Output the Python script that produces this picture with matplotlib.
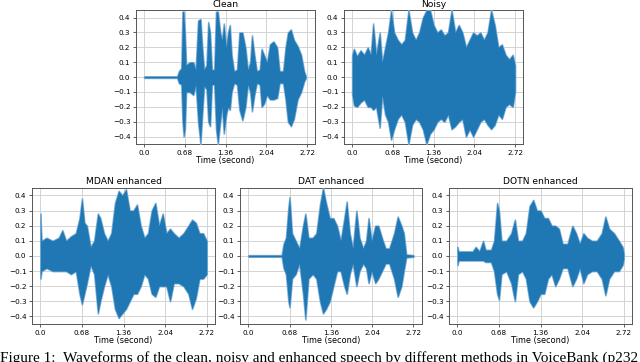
import matplotlib.pyplot as plt

# Time ticks shared by every panel.
TICKS = [0.0, 0.68, 1.36, 2.04, 2.72]
TICK_LABELS = ["0.0", "0.68", "1.36", "2.04", "2.72"]
YTICKS = [-0.4, -0.3, -0.2, -0.1, 0.0, 0.1, 0.2, 0.3, 0.4]
YTICK_LABELS = ["\u22120.4", "\u22120.3", "\u22120.2", "\u22120.1", "0.0",
                "0.1", "0.2", "0.3", "0.4"]

# Waveform envelopes (time in s, upper / lower amplitude).
clean_t = [0.00, 0.55, 0.58, 0.62, 0.64, 0.66, 0.68, 0.70, 0.76, 0.82, 0.86,
           0.90, 0.94, 0.97, 1.00, 1.04, 1.07, 1.10, 1.13, 1.17, 1.20, 1.23,
           1.27, 1.30, 1.33, 1.37, 1.40, 1.43, 1.46, 1.50, 1.55, 1.59, 1.64,
           1.69, 1.73, 1.77, 1.80, 1.84, 1.88, 1.93, 1.96, 2.00, 2.05, 2.10,
           2.16, 2.22, 2.26, 2.32, 2.36, 2.40, 2.45, 2.50, 2.56, 2.62, 2.67,
           2.70]
clean_up = [0.005, 0.005, 0.04, 0.06, 0.44, 0.44, 0.30, 0.08, 0.10, 0.10, 0.05,
            0.38, 0.39, 0.20, 0.05, 0.08, 0.37, 0.30, 0.05, 0.05, 0.44, 0.44,
            0.30, 0.25, 0.36, 0.20, 0.30, 0.35, 0.15, 0.04, 0.05, 0.30, 0.30,
            0.20, 0.05, 0.10, 0.28, 0.15, 0.04, 0.05, 0.19, 0.15, 0.10, 0.22,
            0.24, 0.20, 0.04, 0.04, 0.20, 0.30, 0.32, 0.25, 0.21, 0.15, 0.04,
            0.005]
clean_lo = [-0.005, -0.005, -0.04, -0.05, -0.30, -0.40, -0.35, -0.10, -0.10,
            -0.12, -0.05, -0.30, -0.45, -0.25, -0.06, -0.08, -0.30, -0.33,
            -0.05, -0.05, -0.35, -0.45, -0.30, -0.20, -0.38, -0.25, -0.20,
            -0.22, -0.10, -0.04, -0.05, -0.22, -0.29, -0.20, -0.05, -0.10,
            -0.23, -0.12, -0.04, -0.05, -0.20, -0.18, -0.12, -0.15, -0.15,
            -0.14, -0.04, -0.04, -0.15, -0.30, -0.33, -0.28, -0.15, -0.10,
            -0.03, -0.005]

noisy_t = [0.00, 0.03, 0.08, 0.14, 0.20, 0.26, 0.31, 0.35, 0.40, 0.46, 0.50,
           0.55, 0.60, 0.65, 0.70, 0.76, 0.82, 0.88, 0.94, 1.00, 1.06, 1.12,
           1.18, 1.24, 1.30, 1.36, 1.42, 1.48, 1.54, 1.60, 1.66, 1.72, 1.78,
           1.84, 1.90, 1.96, 2.02, 2.08, 2.14, 2.20, 2.26, 2.32, 2.38, 2.44,
           2.50, 2.56, 2.62, 2.68, 2.72]
noisy_up = [0.15, 0.19, 0.14, 0.18, 0.15, 0.20, 0.15, 0.36, 0.15, 0.30, 0.10,
            0.20, 0.30, 0.45, 0.30, 0.25, 0.22, 0.25, 0.45, 0.30, 0.25, 0.30,
            0.40, 0.45, 0.45, 0.35, 0.30, 0.32, 0.28, 0.30, 0.45, 0.30, 0.35,
            0.30, 0.20, 0.25, 0.30, 0.28, 0.30, 0.25, 0.30, 0.45, 0.35, 0.20,
            0.22, 0.15, 0.12, 0.15, 0.08]
noisy_lo = [-0.12, -0.19, -0.20, -0.17, -0.15, -0.20, -0.20, -0.22, -0.20,
            -0.34, -0.12, -0.25, -0.30, -0.42, -0.35, -0.28, -0.25, -0.30,
            -0.45, -0.32, -0.28, -0.30, -0.35, -0.45, -0.38, -0.35, -0.30,
            -0.28, -0.30, -0.25, -0.35, -0.33, -0.30, -0.28, -0.40, -0.35,
            -0.40, -0.35, -0.30, -0.28, -0.32, -0.35, -0.32, -0.25, -0.28,
            -0.20, -0.18, -0.20, -0.10]

mdan_t = [0.00, 0.02, 0.10, 0.20, 0.30, 0.36, 0.42, 0.50, 0.58, 0.64, 0.68,
          0.72, 0.76, 0.82, 0.88, 0.94, 0.98, 1.04, 1.10, 1.16, 1.22, 1.28,
          1.34, 1.40, 1.46, 1.52, 1.58, 1.64, 1.70, 1.76, 1.82, 1.88, 1.94,
          2.00, 2.06, 2.12, 2.18, 2.26, 2.34, 2.42, 2.48, 2.54, 2.60, 2.66,
          2.72]
mdan_up = [0.28, 0.10, 0.12, 0.10, 0.12, 0.17, 0.10, 0.13, 0.15, 0.25, 0.38,
           0.22, 0.20, 0.06, 0.10, 0.28, 0.25, 0.15, 0.10, 0.15, 0.35, 0.43,
           0.40, 0.44, 0.30, 0.30, 0.34, 0.20, 0.12, 0.15, 0.30, 0.35, 0.20,
           0.28, 0.15, 0.18, 0.15, 0.12, 0.15, 0.20, 0.24, 0.22, 0.15, 0.15,
           0.10]
mdan_lo = [-0.15, -0.10, -0.08, -0.10, -0.10, -0.10, -0.10, -0.12, -0.10,
           -0.25, -0.32, -0.25, -0.18, -0.06, -0.12, -0.38, -0.30, -0.20,
           -0.12, -0.20, -0.35, -0.41, -0.38, -0.35, -0.30, -0.25, -0.25,
           -0.20, -0.12, -0.15, -0.25, -0.27, -0.20, -0.20, -0.20, -0.30,
           -0.18, -0.18, -0.20, -0.25, -0.35, -0.28, -0.15, -0.15, -0.12]

dat_t = [0.00, 0.55, 0.58, 0.62, 0.66, 0.68, 0.72, 0.78, 0.84, 0.90, 0.94,
         0.99, 1.06, 1.12, 1.18, 1.23, 1.28, 1.34, 1.40, 1.46, 1.52, 1.58,
         1.62, 1.67, 1.72, 1.78, 1.83, 1.89, 1.94, 1.98, 2.03, 2.09, 2.14,
         2.20, 2.26, 2.32, 2.40, 2.46, 2.52, 2.56, 2.60, 2.72]
dat_up = [0.005, 0.005, 0.08, 0.12, 0.32, 0.39, 0.15, 0.10, 0.05, 0.20, 0.28,
          0.12, 0.12, 0.15, 0.34, 0.45, 0.35, 0.25, 0.25, 0.20, 0.10, 0.25,
          0.36, 0.15, 0.05, 0.30, 0.12, 0.05, 0.10, 0.25, 0.10, 0.20, 0.20,
          0.12, 0.05, 0.05, 0.15, 0.26, 0.20, 0.15, 0.01, 0.005]
dat_lo = [-0.005, -0.005, -0.08, -0.12, -0.30, -0.34, -0.15, -0.12, -0.05,
          -0.25, -0.42, -0.15, -0.12, -0.15, -0.30, -0.38, -0.35, -0.30,
          -0.20, -0.10, -0.10, -0.20, -0.25, -0.12, -0.05, -0.20, -0.10,
          -0.05, -0.08, -0.18, -0.10, -0.18, -0.15, -0.10, -0.05, -0.05,
          -0.15, -0.27, -0.20, -0.10, -0.01, -0.005]

dotn_t = [0.00, 0.02, 0.15, 0.25, 0.30, 0.36, 0.42, 0.46, 0.55, 0.60, 0.65,
          0.68, 0.72, 0.80, 0.88, 0.94, 0.99, 1.06, 1.12, 1.18, 1.24, 1.30,
          1.36, 1.42, 1.48, 1.54, 1.60, 1.66, 1.72, 1.80, 1.88, 1.94, 2.00,
          2.06, 2.12, 2.20, 2.28, 2.36, 2.42, 2.48, 2.56, 2.64, 2.70, 2.72]
dotn_up = [0.06, 0.03, 0.03, 0.03, 0.06, 0.03, 0.10, 0.04, 0.04, 0.10, 0.35,
           0.30, 0.10, 0.10, 0.15, 0.24, 0.10, 0.10, 0.15, 0.33, 0.37, 0.30,
           0.30, 0.25, 0.25, 0.20, 0.20, 0.18, 0.08, 0.08, 0.20, 0.15, 0.08,
           0.15, 0.12, 0.10, 0.10, 0.15, 0.26, 0.18, 0.15, 0.10, 0.06, 0.02]
dotn_lo = [-0.06, -0.03, -0.03, -0.03, -0.03, -0.03, -0.03, -0.04, -0.04,
           -0.10, -0.25, -0.29, -0.12, -0.10, -0.18, -0.30, -0.12, -0.10,
           -0.15, -0.30, -0.34, -0.30, -0.25, -0.25, -0.15, -0.12, -0.20,
           -0.15, -0.08, -0.08, -0.20, -0.15, -0.08, -0.18, -0.12, -0.10,
           -0.10, -0.15, -0.26, -0.15, -0.10, -0.10, -0.06, -0.02]

WAVE = "#1f77b4"
WAVE_EDGE = "#7fb1d8"
CAPTION = ("Figure 1:  Waveforms of the clean, noisy and enhanced speech by "
           "different methods in VoiceBank (p232_")

# axes boxes in figure fractions: left, bottom, width, height
PANELS = [
    ("Clean", clean_t, clean_up, clean_lo, [0.2125, 0.602, 0.280, 0.370]),
    ("Noisy", noisy_t, noisy_up, noisy_lo, [0.5375, 0.602, 0.280, 0.370]),
    ("MDAN enhanced", mdan_t, mdan_up, mdan_lo, [0.050, 0.105, 0.286, 0.376]),
    ("DAT enhanced", dat_t, dat_up, dat_lo, [0.375, 0.105, 0.284, 0.376]),
    ("DOTN enhanced", dotn_t, dotn_up, dotn_lo, [0.7016, 0.105, 0.286, 0.376]),
]


def draw_wave(ax, title, t, up, lo):
    # light rim first, then the solid body, so the edges look soft like
    # the overdrawn sample lines of a real waveform plot
    ax.fill_between(t, lo, up, color=WAVE_EDGE, lw=1.2, edgecolor=WAVE_EDGE,
                    zorder=2.9)
    ax.fill_between(t, lo, up, color=WAVE, lw=0, zorder=3)
    ax.set_xlim(-0.136, 2.856)
    ax.set_ylim(-0.45, 0.45)
    ax.set_xticks(TICKS)
    ax.set_xticklabels(TICK_LABELS)
    ax.set_yticks(YTICKS)
    ax.set_yticklabels(YTICK_LABELS)
    ax.grid(True, color="#d3d3d3", lw=0.7, zorder=0)
    ax.set_axisbelow(True)
    ax.tick_params(labelsize=5.2, length=2.5, width=0.6, pad=1.5,
                   color="#444")
    for s in ax.spines.values():
        s.set_color("#555")
        s.set_linewidth(0.7)
    ax.set_title(title, fontsize=6.6, pad=2.5)
    ax.set_xlabel("Time (second)", fontsize=5.9, labelpad=0.5)


def main():
    fig = plt.figure(figsize=(6.4, 3.62), dpi=100)
    for title, t, up, lo, box in PANELS:
        ax = fig.add_axes(box)
        draw_wave(ax, title, t, up, lo)

    # caption runs off the bottom edge in the source image
    fig.text(0.0, 1 - 351 / 362, CAPTION, ha="left", va="top",
             fontsize=11, family="Liberation Serif")

    fig.savefig("out.png", dpi=100)


if __name__ == "__main__":
    main()
